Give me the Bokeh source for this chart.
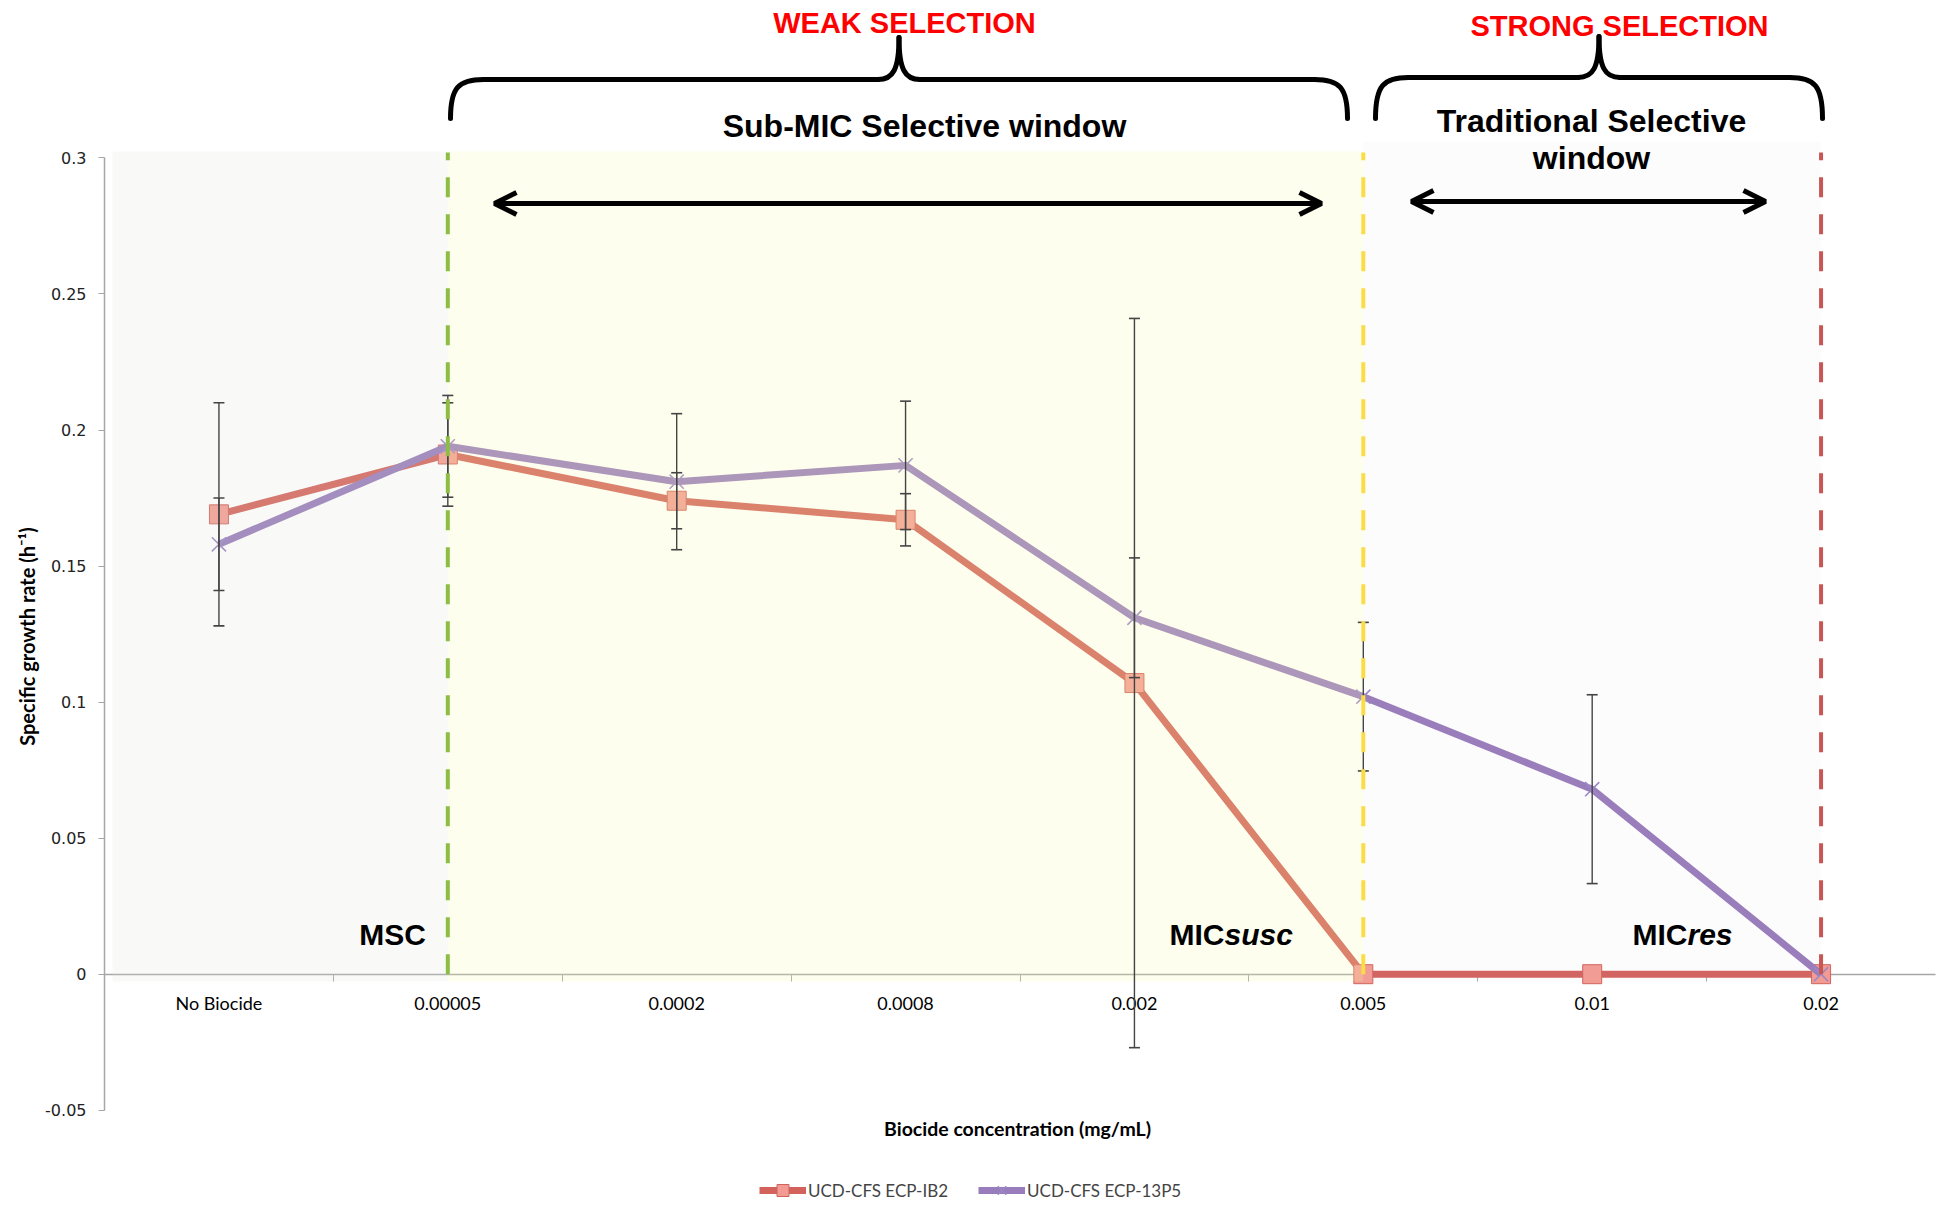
import math
from bokeh.plotting import figure
from bokeh.models import (FixedTicker, CustomJSTickFormatter, Range1d, Arrow, OpenHead,
                          Legend, LegendItem)
from bokeh.core.properties import value
from bokeh.embed import file_html
from bokeh.resources import INLINE

# ---- data -------------------------------------------------------------
categories = ["No Biocide", "0.00005", "0.0002", "0.0008", "0.002", "0.005", "0.01", "0.02"]
ib2_rate = [0.169, 0.191, 0.174, 0.167, 0.107, 0.0, 0.0, 0.0]
ib2_err = [0.041, 0.019, 0.0103, 0.0096, 0.134, 0.0, 0.0, 0.0]
p5_rate = [0.158, 0.194, 0.181, 0.187, 0.131, 0.102, 0.068, 0.0]
p5_err = [0.017, 0.0187, 0.025, 0.0236, 0.022, 0.0273, 0.0347, 0.0]
y_ticks = [-0.05, 0.0, 0.05, 0.1, 0.15, 0.2, 0.25, 0.3]
series_names = ["UCD-CFS ECP-IB2", "UCD-CFS ECP-13P5"]

# ---- canvas geometry ----------------------------------------------------
W, H = 1945, 1205
LEFT, RIGHT = 104, 10                # pixel column of the value axis / right margin
N = len(categories)
XU = (W - LEFT - RIGHT) / N          # pixels per category
Y0 = 973.7                           # pixel row of value 0
YU = 2721.0                          # pixels per unit of growth rate


def px(xp, yp):
    """canvas pixel -> data coordinates"""
    return (xp - LEFT) / XU, (Y0 - yp) / YU


xs = [i + 0.5 for i in range(N)]

# the frame covers the whole canvas; both axes are pinned at data positions
p = figure(width=W, height=H,
           x_range=Range1d(-LEFT / XU, (W - LEFT) / XU),
           y_range=Range1d(-(H - Y0) / YU, Y0 / YU),
           min_border=0,
           output_backend="svg", toolbar_location=None,
           outline_line_color=None, background_fill_color="white",
           border_fill_color="white")
p.grid.visible = False

RED = "#d3625c"
PURPLE = "#987cbc"

# ---- series -----------------------------------------------------------
l1 = p.line(xs, ib2_rate, line_color=RED, line_width=7, line_join="round")
m1 = p.scatter(xs, ib2_rate, marker="square", size=19, fill_color="#f39b92",
               line_color="#d0635c", line_width=1)
l2 = p.line(xs, p5_rate, line_color=PURPLE, line_width=7, line_join="round")
m2 = p.scatter(xs, p5_rate, marker="x", size=20, line_color="#9a86c6", line_width=1.6)

# ---- translucent selection windows ------------------------------------
top_a = px(0, 151)[1]
top_b = px(0, 141)[1]
bot = px(0, 981)[1]
p.quad(left=[px(112, 0)[0]], right=[1.5], bottom=[bot], top=[top_a],
       fill_color="#dee3d3", fill_alpha=0.18, line_color=None)
p.quad(left=[1.5], right=[5.5], bottom=[bot], top=[top_a],
       fill_color="#fafaae", fill_alpha=0.21, line_color=None)
p.quad(left=[5.5], right=[7.5], bottom=[bot], top=[top_b],
       fill_color="#cdb8dc", fill_alpha=0.045, line_color=None)

# ---- error bars ---------------------------------------------------------
for rate, err in ((ib2_rate, ib2_err), (p5_rate, p5_err)):
    ex = [x for x, e in zip(xs, err) if e > 0]
    lo = [v - e for v, e in zip(rate, err) if e > 0]
    hi = [v + e for v, e in zip(rate, err) if e > 0]
    p.segment(x0=ex, y0=lo, x1=ex, y1=hi, line_color="#444444", line_width=1.4)
    p.scatter(ex + ex, lo + hi, marker="dash", size=11, line_color="#444444",
              line_width=1.6)

# ---- threshold lines: MSC, MIC susceptible, MIC resistant -------------
for xv, col in ((1.5, "#8dbd45"), (5.5, "#fadc46"), (7.5, "#c65754")):
    p.segment(x0=[xv], y0=[0], x1=[xv], y1=[px(0, 152)[1]], line_color=col,
              line_width=4, line_dash="20 17")

# ---- braces --------------------------------------------------------------
def brace(x0, x1, ytip, ybar, ycusp):
    xc = (x0 + x1) / 2
    r, rc = 33, 21
    curves = [
        ((x0, ytip), (x0, ybar + 8), (x0 + 8, ybar), (x0 + r, ybar)),
        ((xc - rc, ybar), (xc - 6, ybar), (xc, ybar - 10), (xc, ycusp)),
        ((xc + rc, ybar), (xc + 6, ybar), (xc, ybar - 10), (xc, ycusp)),
        ((x1, ytip), (x1, ybar + 8), (x1 - 8, ybar), (x1 - r, ybar)),
    ]
    c = [[px(*pt) for pt in cv] for cv in curves]
    p.bezier(x0=[q[0][0] for q in c], y0=[q[0][1] for q in c],
             cx0=[q[1][0] for q in c], cy0=[q[1][1] for q in c],
             cx1=[q[2][0] for q in c], cy1=[q[2][1] for q in c],
             x1=[q[3][0] for q in c], y1=[q[3][1] for q in c],
             line_color="black", line_width=5, line_cap="round")
    segs = [((x0 + r, ybar), (xc - rc, ybar)), ((xc + rc, ybar), (x1 - r, ybar))]
    s = [(px(*a), px(*b)) for a, b in segs]
    p.segment(x0=[a[0] for a, b in s], y0=[a[1] for a, b in s],
              x1=[b[0] for a, b in s], y1=[b[1] for a, b in s],
              line_color="black", line_width=5, line_cap="round")


brace(450, 1347, 118, 79, 37)
brace(1375, 1822, 118, 77, 36)

# ---- double arrows ------------------------------------------------------
for (xa, xb, ya) in ((494, 1321, 203), (1411, 1765, 201)):
    (ax, ay), (bx, by) = px(xa, ya), px(xb, ya)
    p.add_layout(Arrow(start=OpenHead(size=22, line_width=5, line_color="black"),
                       end=OpenHead(size=22, line_width=5, line_color="black"),
                       x_start=ax, y_start=ay, x_end=bx, y_end=by,
                       line_width=5, line_color="black"))


# ---- texts ---------------------------------------------------------------
def label(txt, xp, yp, size, color="black", style="bold", align="center",
          font="Liberation Sans", angle=0.0):
    x, y = px(xp, yp)
    p.text(x=[x], y=[y], text=[txt], text_font=value(font),
           text_font_size=f"{size}px", text_font_style=style, text_color=color,
           text_align=align, text_baseline="middle", angle=angle)


label("WEAK SELECTION", 904, 22, 29, color="#fe0000")
label("STRONG SELECTION", 1619, 25, 29, color="#fe0000")
label("Sub-MIC Selective window", 924, 125, 32)
label("Traditional Selective", 1591, 120, 32)
label("window", 1591, 157, 32)
label("MSC", 392, 934, 30)
label("MIC", 1224, 934, 30, align="right")
label("susc", 1224, 934, 30, style="bold italic", align="left")
label("MIC", 1687, 934, 30, align="right")
label("res", 1687, 934, 30, style="bold italic", align="left")
label("Biocide concentration (mg/mL)", 1017, 1128, 19.5, font="Lato")
label("Specific growth rate (h\u207b\u00b9)", 26, 636, 20, font="Lato", angle=math.pi / 2)

# ---- axes ----------------------------------------------------------------
xa = p.xaxis[0]
xa.fixed_location = 0
xa.bounds = (0, N)
xa.level = "underlay"
xa.ticker = FixedTicker(ticks=xs, minor_ticks=list(range(1, N)))
xa.major_label_overrides = {x: c for x, c in zip(xs, categories)}
xa.major_tick_out = 0
xa.major_tick_in = 0
xa.major_tick_line_color = None
xa.minor_tick_out = 7
xa.minor_tick_in = 0
xa.minor_tick_line_color = "#a6a6a6"
xa.axis_line_color = "#a6a6a6"
xa.axis_line_width = 1.5
xa.major_label_text_font = "Lato"
xa.major_label_text_font_size = "18px"
xa.major_label_text_color = "black"
xa.major_label_standoff = 11

ya = p.yaxis[0]
ya.fixed_location = 0
ya.bounds = (-0.05, 0.3)
ya.ticker = FixedTicker(ticks=y_ticks, minor_ticks=[])
ya.formatter = CustomJSTickFormatter(code="return String(parseFloat(tick.toFixed(2)));")
ya.major_tick_out = 6
ya.major_tick_in = 0
ya.major_tick_line_color = "#a6a6a6"
ya.minor_tick_line_color = None
ya.axis_line_color = "#a6a6a6"
ya.axis_line_width = 1.5
ya.major_label_text_font = "DejaVu Sans"
ya.major_label_text_font_size = "16px"
ya.major_label_text_color = "#222222"
ya.major_label_standoff = 12

# ---- legend ----------------------------------------------------------------
legend = Legend(items=[LegendItem(label=series_names[0], renderers=[l1, m1]),
                       LegendItem(label=series_names[1], renderers=[l2, m2])],
                location=(759, 0), orientation="horizontal",
                label_text_font="Lato", label_text_font_size="17px",
                label_standoff=2, spacing=30, padding=0, margin=0,
                glyph_width=47, glyph_height=30,
                background_fill_alpha=0, border_line_alpha=0)
p.add_layout(legend)

open("out.html", "w").write(file_html(p, INLINE))
